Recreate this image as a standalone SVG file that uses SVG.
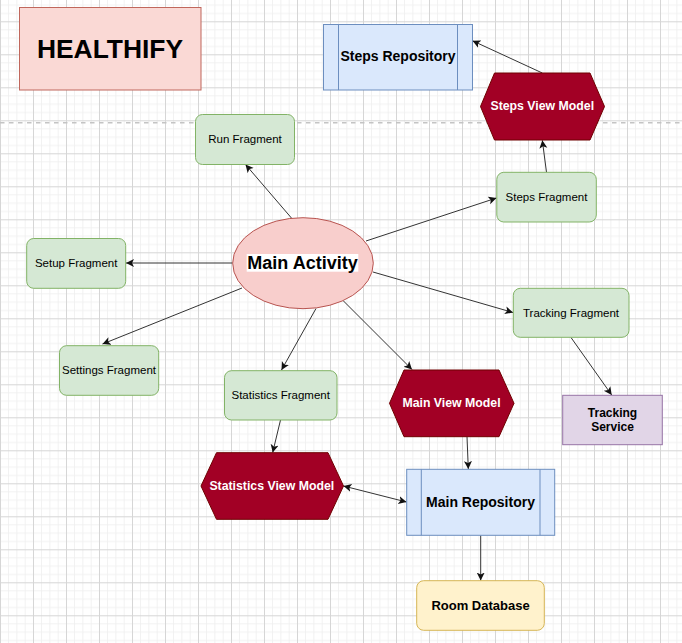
<svg xmlns="http://www.w3.org/2000/svg" width="682" height="643" viewBox="0 0 682 643">
<defs>
<pattern id="grid" patternUnits="userSpaceOnUse" x="0" y="21.3" width="33" height="33">
<rect x="8.25" y="0" width="0.8" height="33" fill="#eeeeee"/>
<rect x="16.5" y="0" width="0.8" height="33" fill="#eeeeee"/>
<rect x="24.75" y="0" width="0.8" height="33" fill="#eeeeee"/>
<rect x="0" y="8.25" width="33" height="0.8" fill="#eeeeee"/>
<rect x="0" y="16.5" width="33" height="0.8" fill="#eeeeee"/>
<rect x="0" y="24.75" width="33" height="0.8" fill="#eeeeee"/>
<rect x="0" y="0" width="1" height="33" fill="#d6d6d6"/>
<rect x="0" y="0" width="33" height="1" fill="#d6d6d6"/>
</pattern>
<marker id="arr" markerUnits="userSpaceOnUse" markerWidth="10" markerHeight="10" refX="8" refY="4" orient="auto-start-reverse">
<path d="M0,0 L8,4 L0,8 L2,4 z" fill="#111"/>
</marker>
</defs>
<style>
text{font-family:"Liberation Sans",Arial,sans-serif;text-anchor:middle;dominant-baseline:central;fill:#000}
.frag rect{fill:#d5e8d4;stroke:#82b366;stroke-width:1}
.frag text{font-size:11.5px}
.vm polygon{fill:#a20025;stroke:#6f0000;stroke-width:1}
.vm text{fill:#fff;font-weight:bold;font-size:12.3px}
.repo rect{fill:#dae8fc;stroke:#6c8ebf;stroke-width:1}
.repo line{stroke:#6c8ebf;stroke-width:1}
.repo text{font-weight:bold;font-size:14px}
.edge{stroke:#333;stroke-width:1;fill:none;marker-end:url(#arr)}
</style>
<rect x="0" y="0" width="682" height="643" fill="#fff"/>
<rect x="0" y="0" width="682" height="643" fill="url(#grid)"/>
<line x1="0" y1="122.7" x2="682" y2="122.7" stroke="#c4c4c4" stroke-width="1.5" stroke-dasharray="4.5 4.5"/>

<g id="connectors">
<line class="edge" x1="294" y1="221" x2="245.5" y2="164.5"/>
<line class="edge" x1="232.7" y1="263" x2="126" y2="263"/>
<line class="edge" x1="242" y1="288" x2="102.5" y2="344"/>
<line class="edge" x1="316" y1="308.5" x2="281.5" y2="370"/>
<line class="edge" x1="343" y1="300.5" x2="412" y2="369.5"/>
<line class="edge" x1="373" y1="272" x2="513" y2="312.5"/>
<line class="edge" x1="366" y1="241" x2="496.5" y2="198"/>
<line class="edge" x1="546.5" y1="172.3" x2="542.3" y2="140.3"/>
<line class="edge" x1="542.3" y1="73" x2="472.5" y2="40.8"/>
<line class="edge" x1="571" y1="337.5" x2="611.7" y2="395"/>
<line class="edge" x1="467" y1="436.7" x2="468.3" y2="469"/>
<line class="edge" x1="280.5" y1="420" x2="272.7" y2="452.5"/>
<line class="edge" x1="343.5" y1="486" x2="406.5" y2="502" marker-start="url(#arr)"/>
<line class="edge" x1="480.7" y1="535.3" x2="480.7" y2="580.5"/>
</g>

<g id="healthify">
<rect x="19.5" y="7.5" width="181.5" height="82.5" fill="#fad9d5" stroke="#c0675c" stroke-width="1"/>
<text x="110" y="48.5" font-size="26.4px" font-weight="bold">HEALTHIFY</text>
</g>

<g id="steps-repository" class="repo">
<rect x="323.5" y="24.5" width="149" height="65.5"/>
<line x1="338.5" y1="24.5" x2="338.5" y2="90"/>
<line x1="457.5" y1="24.5" x2="457.5" y2="90"/>
<text x="398" y="56">Steps Repository</text>
</g>

<g id="steps-view-model" class="vm">
<polygon points="480.5,106.5 494.5,73 590,73 604.5,106.5 590,140 494.5,140"/>
<text x="542.3" y="105.5">Steps View Model</text>
</g>

<g id="run-fragment" class="frag">
<rect x="195.5" y="114.5" width="99" height="50" rx="7"/>
<text x="245" y="139">Run Fragment</text>
</g>

<g id="steps-fragment" class="frag">
<rect x="496.8" y="172.3" width="99.5" height="49.7" rx="7"/>
<text x="546.5" y="197">Steps Fragment</text>
</g>

<g id="main-activity">
<ellipse cx="303" cy="263.2" rx="70.3" ry="45.5" fill="#f8cecc" stroke="#b85450" stroke-width="1"/>
<rect x="246.7" y="254" width="111.6" height="17.7" fill="#fff"/>
<text x="302.5" y="263" font-size="18px" font-weight="bold">Main Activity</text>
</g>

<g id="setup-fragment" class="frag">
<rect x="26.7" y="238.5" width="99" height="49.8" rx="7"/>
<text x="76.2" y="263">Setup Fragment</text>
</g>

<g id="settings-fragment" class="frag">
<rect x="59.5" y="345.7" width="99.2" height="49.6" rx="7"/>
<text x="109" y="369.5">Settings Fragment</text>
</g>

<g id="statistics-fragment" class="frag">
<rect x="224.5" y="370.7" width="112.5" height="49.3" rx="7"/>
<text x="280.7" y="394.5">Statistics Fragment</text>
</g>

<g id="tracking-fragment" class="frag">
<rect x="513.3" y="288.3" width="115.7" height="49" rx="7"/>
<text x="571" y="312.5">Tracking Fragment</text>
</g>

<g id="tracking-service">
<rect x="562.7" y="395.3" width="99.6" height="49.4" fill="#e1d5e7" stroke="#9673a6" stroke-width="1"/>
<text x="612.5" y="412.7" font-size="12px" font-weight="bold">Tracking</text>
<text x="612.5" y="426.7" font-size="12px" font-weight="bold">Service</text>
</g>

<g id="main-view-model" class="vm">
<polygon points="389.5,403.3 404,370 499,370 514,403.3 499,436.7 404,436.7"/>
<text x="451.5" y="402.7">Main View Model</text>
</g>

<g id="statistics-view-model" class="vm">
<polygon points="201,486 216.5,452.7 328,452.7 343.5,486 328,519.3 216.5,519.3"/>
<text x="271.8" y="485.5">Statistics View Model</text>
</g>

<g id="main-repository" class="repo">
<rect x="406.7" y="469.3" width="148" height="66"/>
<line x1="421.3" y1="469.3" x2="421.3" y2="535.3"/>
<line x1="540" y1="469.3" x2="540" y2="535.3"/>
<text x="480.5" y="502">Main Repository</text>
</g>

<g id="room-database">
<rect x="416.7" y="580.7" width="127.6" height="49.6" rx="7" fill="#fff2cc" stroke="#d6b656" stroke-width="1"/>
<text x="480.5" y="605.5" font-size="13px" font-weight="bold">Room Database</text>
</g>
</svg>
